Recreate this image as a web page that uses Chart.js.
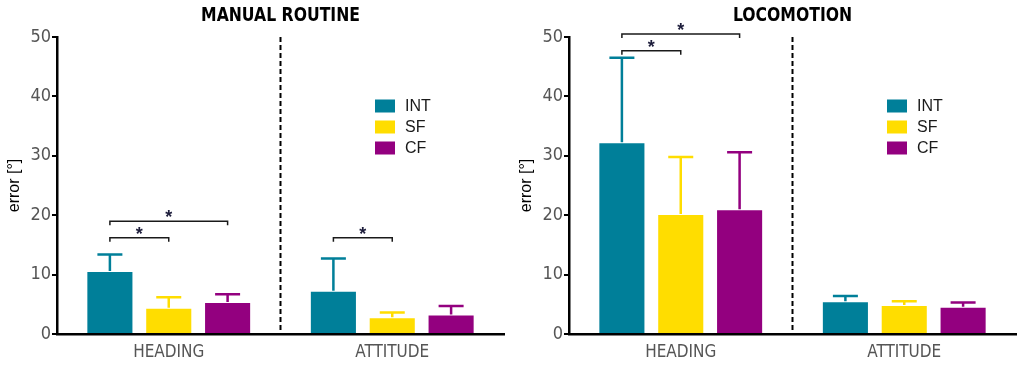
<!DOCTYPE html>
<html>
<head>
<meta charset="utf-8">
<script src="https://cdn.jsdelivr.net/npm/chart.js@4.4.1/dist/chart.umd.min.js"></script>
<style>
    html, body { margin: 0; padding: 0; background: #fff; }
    .row { display: flex; width: 1024px; height: 365px; }
    .cell { position: relative; width: 512px; height: 365px; }
</style>
</head>
<body>
<div class="row">
    <div class="cell"><canvas id="manualChart"></canvas></div>
    <div class="cell"><canvas id="locoChart"></canvas></div>
</div>
<script>
const CATEGORIES = ['HEADING', 'ATTITUDE'];
const SERIES = ['INT', 'SF', 'CF'];
const COLORS = ['#007F99', '#FFDD00', '#93007F'];
const Y_TICKS = [0, 10, 20, 30, 40, 50];

// MANUAL ROUTINE: means and upper end of the error bar
const manualInt = [10.6, 7.3];
const manualSf = [4.4, 2.8];
const manualCf = [5.4, 3.3];
const manualIntTop = [13.4, 12.7];
const manualSfTop = [6.2, 3.6];
const manualCfTop = [6.7, 4.7];
// [from series, to series, category, bracket level]
const manualSig = [[0, 1, 0, 16.2], [0, 2, 0, 19.0], [0, 1, 1, 16.2]];

// LOCOMOTION
const locoInt = [32.3, 5.5];
const locoSf = [20.2, 4.9];
const locoCf = [21.0, 4.6];
const locoIntTop = [46.5, 6.4];
const locoSfTop = [29.8, 5.5];
const locoCfTop = [30.6, 5.3];
const locoSig = [[0, 1, 0, 47.7], [0, 2, 0, 50.5]];

const NARROW = "'Liberation Sans Narrow', 'DejaVu Sans Condensed', 'Liberation Sans', sans-serif";
const SANS = "'Liberation Sans', Arial, sans-serif";

const decorPlugin = {
    id: 'decor',
    afterDatasetsDraw(chart, args, opts) {
        const ctx = chart.ctx;
        const area = chart.chartArea;
        const x = chart.scales.x;
        const y = chart.scales.y;
        ctx.save();

        // dashed separator between categories
        const sepX = (x.getPixelForValue(0) + x.getPixelForValue(1)) / 2;
        ctx.strokeStyle = '#000';
        ctx.lineWidth = 2;
        ctx.setLineDash([5, 3]);
        ctx.beginPath();
        ctx.moveTo(sepX, area.top);
        ctx.lineTo(sepX, area.bottom);
        ctx.stroke();
        ctx.setLineDash([]);

        // error bars (upper only)
        opts.errTops.forEach((tops, di) => {
            const meta = chart.getDatasetMeta(di);
            ctx.strokeStyle = COLORS[di];
            ctx.lineWidth = 2.5;
            tops.forEach((t, ci) => {
                const bar = meta.data[ci];
                const ty = y.getPixelForValue(t);
                ctx.beginPath();
                ctx.moveTo(bar.x, bar.y);
                ctx.lineTo(bar.x, ty);
                ctx.moveTo(bar.x - 12.5, ty);
                ctx.lineTo(bar.x + 12.5, ty);
                ctx.stroke();
            });
        });

        // significance brackets
        ctx.strokeStyle = '#1a1a1a';
        ctx.fillStyle = '#1c1c3a';
        ctx.lineWidth = 1.5;
        ctx.font = "bold 18px " + SANS;
        ctx.textAlign = 'center';
        ctx.textBaseline = 'alphabetic';
        opts.sig.forEach(([a, b, ci, lvl]) => {
            const x1 = chart.getDatasetMeta(a).data[ci].x;
            const x2 = chart.getDatasetMeta(b).data[ci].x;
            const by = y.getPixelForValue(lvl);
            ctx.beginPath();
            ctx.moveTo(x1, by + 4);
            ctx.lineTo(x1, by);
            ctx.lineTo(x2, by);
            ctx.lineTo(x2, by + 4);
            ctx.stroke();
            ctx.fillText('*', (x1 + x2) / 2, by + 2);
        });

        // legend
        ctx.font = "16px " + SANS;
        ctx.textAlign = 'left';
        ctx.textBaseline = 'middle';
        SERIES.forEach((name, i) => {
            const ly = 106 + i * 21;
            ctx.fillStyle = COLORS[i];
            ctx.fillRect(375, ly - 6.5, 20, 13);
            ctx.fillStyle = '#1a1a1a';
            ctx.fillText(name, 405, ly + 1);
        });

        // title, squeezed a little to match the condensed face
        ctx.fillStyle = '#000';
        ctx.font = "bold 20px " + NARROW;
        ctx.textAlign = 'center';
        ctx.textBaseline = 'middle';
        ctx.translate((area.left + area.right) / 2, 16);
        ctx.scale(0.87, 1);
        ctx.fillText(opts.title, 0, 0);
        ctx.restore();
    }
};

function makeChart(id, title, values, tops, sig) {
    return new Chart(document.getElementById(id), {
        type: 'bar',
        data: {
            labels: CATEGORIES,
            datasets: SERIES.map((s, i) => ({
                label: s,
                data: values[i],
                backgroundColor: COLORS[i],
                borderColor: 'rgba(255,255,255,0.35)',
                borderWidth: 1,
                barPercentage: 0.8,
                categoryPercentage: 0.79
            }))
        },
        options: {
            responsive: true,
            maintainAspectRatio: false,
            animation: false,
            layout: { padding: { left: 0, top: 37, right: 8, bottom: 0 } },
            plugins: {
                legend: { display: false },
                tooltip: { enabled: false },
                decor: { title: title, errTops: tops, sig: sig }
            },
            scales: {
                y: {
                    min: 0,
                    max: 50,
                    afterFit: (s) => { s.width = 57; },
                    afterBuildTicks: (s) => { s.ticks = Y_TICKS.map(v => ({ value: v })); },
                    border: { color: '#000', width: 2.5 },
                    grid: { drawOnChartArea: false, drawTicks: true, tickLength: 5, color: '#000', lineWidth: 2 },
                    ticks: { color: '#555', padding: 1, font: { size: 18, family: NARROW } },
                    title: {
                        display: true,
                        text: 'error [°]',
                        color: '#000',
                        font: { size: 16, family: SANS },
                        padding: { top: 5, bottom: 0 }
                    }
                },
                x: {
                    afterFit: (s) => { s.height = 31; },
                    border: { color: '#000', width: 2.5 },
                    grid: { drawOnChartArea: false, drawTicks: false },
                    ticks: { color: '#555', padding: 8, font: { size: 17, family: NARROW } }
                }
            }
        },
        plugins: [decorPlugin]
    });
}

makeChart('manualChart', 'MANUAL ROUTINE',
    [manualInt, manualSf, manualCf],
    [manualIntTop, manualSfTop, manualCfTop],
    manualSig);

makeChart('locoChart', 'LOCOMOTION',
    [locoInt, locoSf, locoCf],
    [locoIntTop, locoSfTop, locoCfTop],
    locoSig);
</script>
</body>
</html>
